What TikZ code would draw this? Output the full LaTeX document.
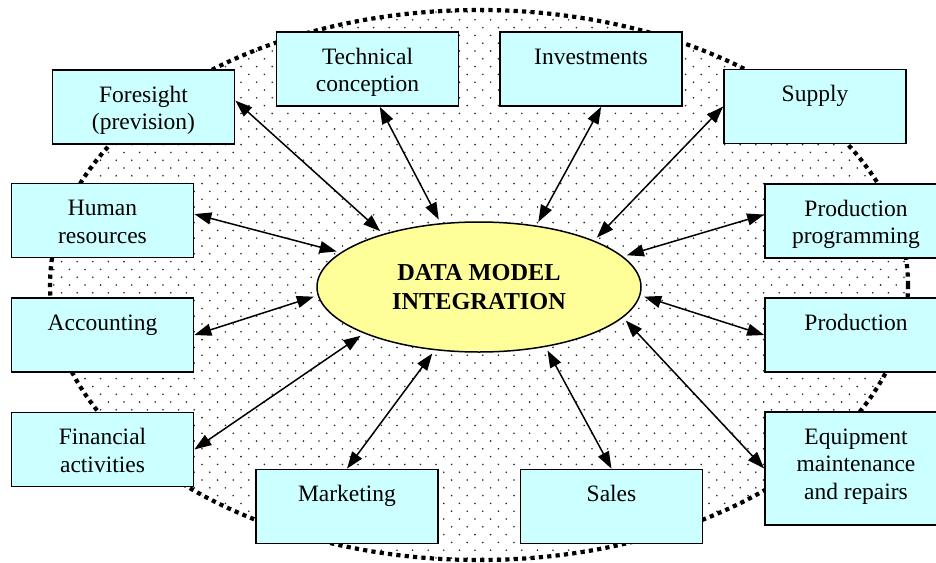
\documentclass[tikz,border=0pt]{standalone}
\usepackage{fontspec}
\setmainfont{Liberation Serif}
\usetikzlibrary{arrows.meta,shapes.geometric}

\definecolor{unitcyan}{HTML}{CCFFFF}
\definecolor{hubyellow}{HTML}{FFFF99}

\tikzset{
  unit/.style={draw, line width=1.7pt, fill=unitcyan, inner sep=0pt,
    font=\fontsize{23.5pt}{27.5pt}\selectfont,
    execute at begin node={\begin{minipage}[t][#1][t]{182pt}\centering\rule{0pt}{32pt}},
    execute at end node={\end{minipage}}},
  unit/.default=74pt,
  hub/.style={ellipse, draw, line width=1.5pt, fill=hubyellow, inner sep=0pt,
    minimum width=324pt, minimum height=130pt, align=center,
    font=\fontsize{24.3pt}{29pt}\selectfont\bfseries},
  link/.style={{Triangle[length=17pt,width=12pt]}-{Triangle[length=17pt,width=12pt]},
    line width=1.5pt, shorten >=4pt}
}

\begin{document}
\begin{tikzpicture}[x=1pt,y=-1pt]
  \fill[white] (0,0) rectangle (936,562);
  \useasboundingbox (0,0) rectangle (936,562);

  % dotted background, one row per path
  \begin{scope}
    \clip (479,285) ellipse [x radius=429pt, y radius=275pt];
    \foreach \r in {0,...,71} {
      \fill[black!85] \foreach \c in {0,...,59} {
        ({46+15.6*\c+7.8*mod(\r,2)},{12+7.8*\r}) circle (0.9pt)
      };
    }
  \end{scope}
  \draw[line width=4.2pt, dash pattern=on 4.2pt off 4.2pt]
    (479,285) ellipse [x radius=429pt, y radius=275pt];

  % departments
  \node[unit] (fore) at (143.5,107) {Foresight\\(prevision)};
  \node[unit] (tech) at (367.5,69) {Technical\\conception};
  \node[unit] (inv) at (591,69) {Investments};
  \node[unit] (sup) at (815,106.5) {Supply};
  \node[unit] (hr) at (102.5,220.5) {Human\\resources};
  \node[unit] (pp) at (856,221) {Production\\programming};
  \node[unit] (acc) at (102.5,335) {Accounting};
  \node[unit] (prod) at (856,335) {Production};
  \node[unit] (fin) at (102.5,449.5) {Financial\\activities};
  \node[unit] (mkt) at (347,506.5) {Marketing};
  \node[unit] (sal) at (611.5,506.5) {Sales};
  \node[unit=113pt] (eqp) at (856,468.5) {Equipment\\maintenance\\and repairs};

  % centre
  \node[hub] (dm) at (479,287) {DATA MODEL\\INTEGRATION};

  \draw[link] (fore.4) -- (dm.151);
  \draw[link] (tech.-72) -- (dm.121);
  \draw[link] (inv.-75) -- (dm.47);
  \draw[link] (sup.west) -- (dm.22);
  \draw[link] (hr.4) -- (dm.166);
  \draw[link] (pp.176) -- (dm.12);
  \draw[link] (acc.east) -- (dm.183);
  \draw[link] (prod.west) -- (dm.-3);
  \draw[link] (fin.east) -- (dm.202);
  \draw[link] (mkt.north) -- (dm.235);
  \draw[link] (sal.north) -- (dm.-42);
  \draw[link] (eqp.west) -- (dm.-12);
\end{tikzpicture}
\end{document}
